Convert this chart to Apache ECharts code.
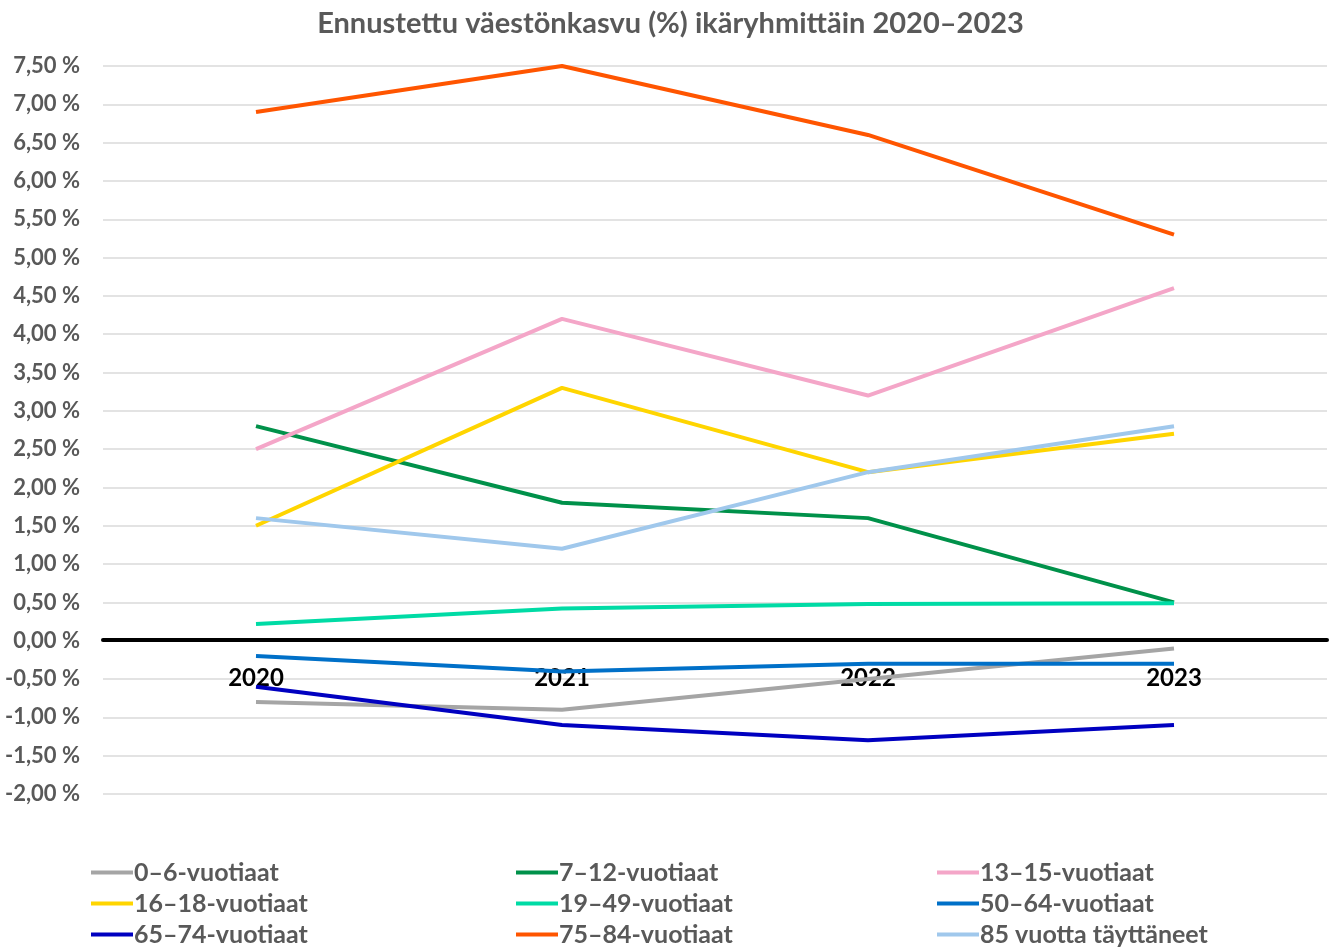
<!DOCTYPE html>
<html>
<head>
<meta charset="utf-8">
<script src="https://cdn.jsdelivr.net/npm/echarts@6/dist/echarts.min.js"></script>
<style>
  html, body { margin: 0; padding: 0; background: #fff; }
  #container { width: 1341px; height: 949px; }
</style>
</head>
<body>
<div id="container"></div>
<script>
var years = ['2020', '2021', '2022', '2023'];

var names = ['0–6-vuotiaat', '7–12-vuotiaat', '13–15-vuotiaat', '16–18-vuotiaat',
  '19–49-vuotiaat', '50–64-vuotiaat', '65–74-vuotiaat', '75–84-vuotiaat', '85 vuotta täyttäneet'];

var age0_6 = [-0.8, -0.9, -0.5, -0.1];
var age7_12 = [2.8, 1.8, 1.6, 0.5];
var age13_15 = [2.5, 4.2, 3.2, 4.6];
var age16_18 = [1.5, 3.3, 2.2, 2.7];
var age19_49 = [0.22, 0.42, 0.48, 0.49];
var age50_64 = [-0.2, -0.4, -0.3, -0.3];
var age65_74 = [-0.6, -1.1, -1.3, -1.1];
var age75_84 = [6.9, 7.5, 6.6, 5.3];
var age85 = [1.6, 1.2, 2.2, 2.8];

var values = [age0_6, age7_12, age13_15, age16_18, age19_49, age50_64, age65_74, age75_84, age85];
var colors = ['#A5A5A5', '#00914A', '#F4A6C8', '#FFD500', '#00DBA5', '#0070C8', '#0000C0', '#FF5500', '#A0C8EC'];

var font = 'Lato, "Open Sans", sans-serif';
var chart = echarts.init(document.getElementById('container'));

var series = [];
for (var i = 0; i < names.length; i++) {
  series.push({
    name: names[i],
    type: 'line',
    data: values[i],
    showSymbol: false,
    symbol: 'none',
    lineStyle: { width: 4, color: colors[i] },
    itemStyle: { color: colors[i] }
  });
}

// three vertical legend columns like the excel legend
function legendCol(left, items) {
  return {
    orient: 'vertical',
    left: left,
    top: 860,
    padding: 0,
    icon: 'rect',
    itemWidth: 42,
    itemHeight: 4,
    itemGap: 6,
    data: items,
    textStyle: { color: '#595959', fontSize: 25, fontFamily: font, fontWeight: 'bold', lineHeight: 25, padding: [0, 0, 0, -4] }
  };
}

var option = {
  backgroundColor: '#fff',
  animation: false,
  title: {
    text: 'Ennustettu väestönkasvu (%) ikäryhmittäin 2020–2023',
    left: 'center',
    top: 4,
    textStyle: { color: '#595959', fontSize: 29, fontFamily: font, fontWeight: 'bold' }
  },
  legend: [
    legendCol(91, [names[0], names[3], names[6]]),
    legendCol(516, [names[1], names[4], names[7]]),
    legendCol(937, [names[2], names[5], names[8]])
  ],
  grid: { left: 103, right: 14, top: 66, bottom: 155 },
  xAxis: {
    type: 'category',
    data: years,
    offset: -154,
    axisLine: { onZero: false, lineStyle: { color: '#000', width: 4 } },
    axisTick: { show: false },
    axisLabel: { color: '#000', fontSize: 24, fontWeight: 'bold', fontFamily: font, margin: 26 }
  },
  yAxis: {
    type: 'value',
    min: -2,
    max: 7.5,
    interval: 0.5,
    axisLine: { show: false },
    axisTick: { show: false },
    splitLine: { lineStyle: { color: '#E3E3E3', width: 2 } },
    axisLabel: {
      color: '#595959', fontSize: 22, fontWeight: 'bold', fontFamily: font, margin: 23,
      formatter: function (v) { return v.toFixed(2).replace('.', ',') + ' %'; }
    }
  },
  series: series
};

chart.setOption(option);
</script>
</body>
</html>
